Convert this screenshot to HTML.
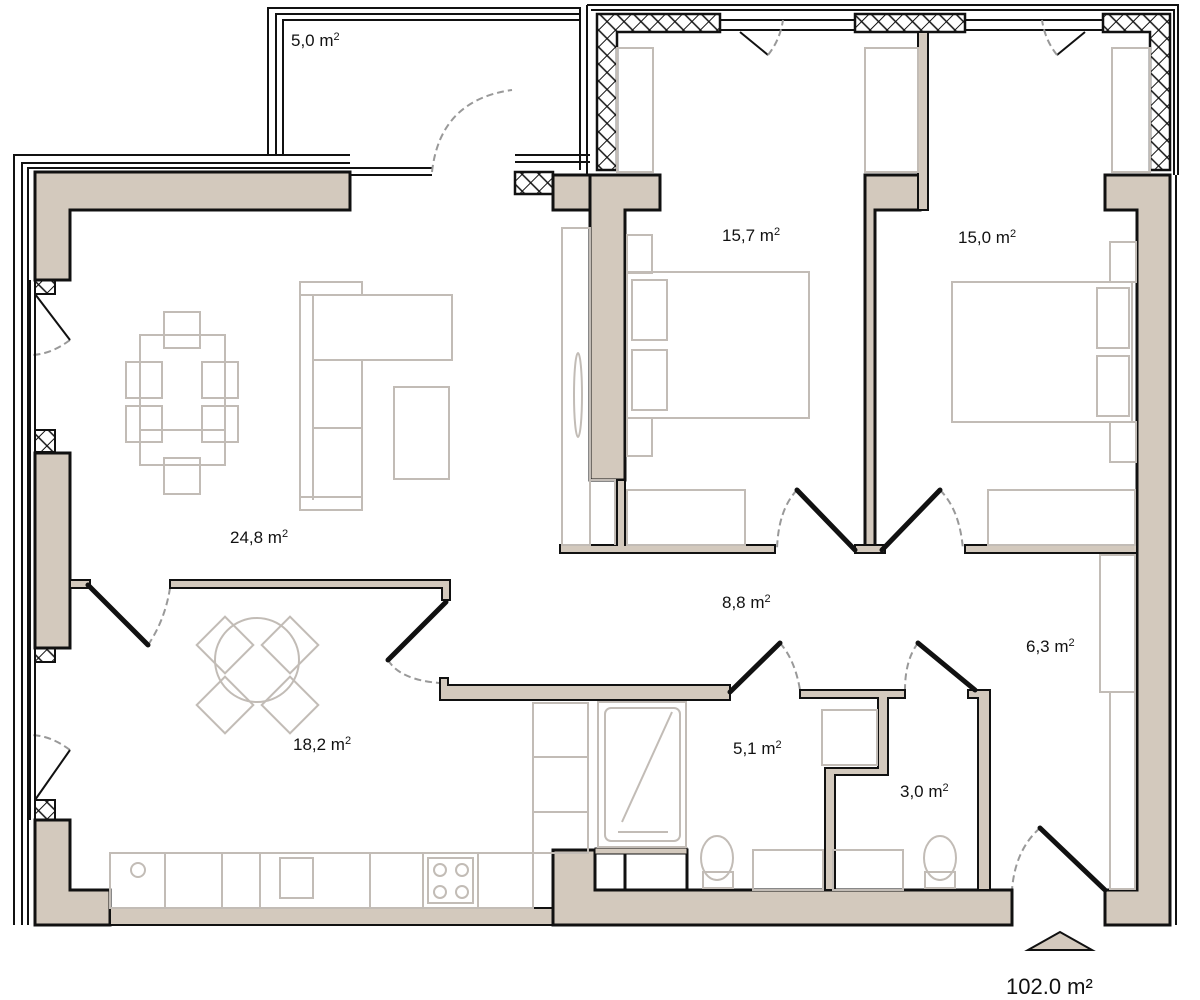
<!DOCTYPE html>
<html><head><meta charset="utf-8"><style>
html,body{margin:0;padding:0;background:#fff;width:1200px;height:1000px;overflow:hidden}
svg{display:block}
text{font-family:"Liberation Sans",sans-serif;fill:#111}
</style></head><body>
<svg width="1200" height="1000" viewBox="0 0 1200 1000">
<defs>
<pattern id="h" width="12" height="12" patternUnits="userSpaceOnUse" patternTransform="rotate(45)">
<rect width="12" height="12" fill="#fff"/><line x1="0" y1="0" x2="0" y2="12" stroke="#111" stroke-width="2"/><line x1="0" y1="6" x2="12" y2="6" stroke="#111" stroke-width="1.5"/>
</pattern>
</defs>

<g fill="none" stroke="#111" stroke-width="2">
<path d="M268 155 V8 H580 V170"/>
<path d="M276 155 V14 H580"/>
<path d="M283 155 V20 H580"/>
<path d="M350 168 H432 M350 175 H432 M515 155 H590 M515 162 H590"/>
<path d="M587 5 H1178 V175 M591 10 H1174 V175"/>
<path d="M587 5 V175"/>
</g>
<g stroke="#111" stroke-width="2.5" fill="url(#h)">
<path d="M597 14 H720 V32 H617 V170 H597 Z"/>
<rect x="855" y="14" width="110" height="18"/>
<path d="M1103 14 H1170 V170 H1150 V32 H1103 Z"/>
<rect x="515" y="172" width="38" height="22"/>
</g>
<g fill="none" stroke="#111" stroke-width="2">
<line x1="720" y1="30" x2="855" y2="30"/><line x1="965" y1="30" x2="1103" y2="30"/>
<line x1="720" y1="20" x2="855" y2="20"/><line x1="965" y1="20" x2="1103" y2="20"/>
<path d="M740 32 L768 55 M1085 32 L1057 55"/>
</g>
<g fill="none" stroke="#999" stroke-width="2" stroke-dasharray="7 4">
<path d="M768 55 Q780 40 783 20"/><path d="M1057 55 Q1045 40 1042 20"/>
<path d="M432 172 Q440 100 512 90"/>
<path d="M70 340 Q50 355 30 355"/><path d="M70 750 Q50 735 30 735"/>
<path d="M148 645 Q165 620 170 588"/><path d="M388 660 Q400 680 440 683"/>
<path d="M797 490 Q778 510 777 550"/><path d="M940 490 Q960 510 963 550"/>
<path d="M780 643 Q795 660 800 690"/><path d="M918 643 Q905 660 905 690"/>
<path d="M1040 828 Q1015 850 1012 890"/>
</g>

<g fill="none" stroke="#111" stroke-width="2">
<path d="M14 925 V155 H350"/>
<path d="M22 925 V163 H350"/>
<path d="M28 925 V168 H350"/>
<path d="M30 280 V820 M35 280 V820"/>
<path d="M1170 175 V925 M1176 175 V925"/>
</g>
<g stroke="#111" stroke-width="2" fill="url(#h)">
<rect x="35" y="280" width="20" height="14"/><rect x="35" y="430" width="20" height="22"/>
<rect x="35" y="648" width="20" height="14"/><rect x="35" y="800" width="20" height="20"/>
</g>
<g stroke="#111" stroke-width="2"><path d="M35 294 L70 340 M35 800 L70 750" fill="none"/></g>

<g fill="#d3c9bd" stroke="#111" stroke-width="3" stroke-linejoin="miter">
<path d="M35 172 H350 V210 H70 V280 H35 Z"/>
<rect x="35" y="453" width="35" height="195"/>
<path d="M35 820 H70 V890 H110 V925 H35 Z"/>
<rect x="110" y="908" width="443" height="17" stroke-width="2"/>
<path d="M553 850 H595 V890 H1012 V925 H553 Z"/>
<rect x="553" y="175" width="37" height="35"/>
<path d="M590 175 H660 V210 H625 V480 H590 Z"/>
<path d="M865 175 H920 V210 H875 V550 H865 Z"/>
<path d="M918 32 H928 V210 H918 Z" stroke-width="2"/>
<path d="M1105 175 H1170 V925 H1105 V890 H1137 V210 H1105 Z"/>
<path d="M617 480 H625 V545 H775 V553 H560 V545 H617 Z" stroke-width="2"/>
<path d="M855 545 H885 V553 H855 Z" stroke-width="2"/>
<path d="M965 545 H1137 V553 H965 Z" stroke-width="2"/>
<path d="M170 580 H450 V600 H442 V588 H170 Z" stroke-width="2"/>
<rect x="70" y="580" width="20" height="8" stroke-width="2"/>
<path d="M440 678 H448 V685 H730 V700 H440 Z" stroke-width="2"/>
<path d="M800 690 H905 V698 H888 V775 H835 V890 H825 V768 H878 V698 H800 Z" stroke-width="2"/>
<path d="M968 690 H990 V890 H978 V698 H968 Z" stroke-width="2"/>
<rect x="625" y="850" width="62" height="40" fill="#fff"/>
<rect x="595" y="848" width="92" height="6" stroke-width="1"/>
</g>

<g stroke="#111" stroke-width="5" stroke-linecap="round">
<line x1="88" y1="585" x2="148" y2="645"/>
<line x1="388" y1="660" x2="446" y2="602"/>
<line x1="797" y1="490" x2="855" y2="550"/>
<line x1="940" y1="490" x2="882" y2="550"/>
<line x1="730" y1="692" x2="780" y2="643"/>
<line x1="918" y1="643" x2="975" y2="690"/>
<line x1="1040" y1="828" x2="1105" y2="890"/>
</g>

<g fill="none" stroke="#c2bcb6" stroke-width="2">
<rect x="140" y="335" width="85" height="95"/>
<rect x="140" y="430" width="85" height="35"/>
<rect x="164" y="312" width="36" height="36"/><rect x="164" y="458" width="36" height="36"/>
<rect x="126" y="362" width="36" height="36"/><rect x="126" y="406" width="36" height="36"/>
<rect x="202" y="362" width="36" height="36"/><rect x="202" y="406" width="36" height="36"/>
<path d="M300 282 H362 V295 H452 V360 H362 V510 H300 Z"/>
<path d="M313 295 V500 M300 295 H362 M313 360 H362 M313 428 H362 M300 497 H362"/>
<rect x="394" y="387" width="55" height="92"/>
<circle cx="257" cy="660" r="42"/>
<rect x="205" y="625" width="40" height="40" transform="rotate(45 225 645)"/>
<rect x="270" y="625" width="40" height="40" transform="rotate(45 290 645)"/>
<rect x="205" y="685" width="40" height="40" transform="rotate(45 225 705)"/>
<rect x="270" y="685" width="40" height="40" transform="rotate(45 290 705)"/>
<rect x="110" y="853" width="423" height="55"/>
<path d="M165 853 V908 M222 853 V908 M260 853 V908 M370 853 V908 M423 853 V908 M478 853 V908"/>
<circle cx="138" cy="870" r="7"/><rect x="280" y="858" width="33" height="40"/>
<rect x="428" y="858" width="45" height="45"/>
<circle cx="440" cy="870" r="6"/><circle cx="462" cy="870" r="6"/><circle cx="440" cy="892" r="6"/><circle cx="462" cy="892" r="6"/>
<rect x="533" y="703" width="55" height="150"/><path d="M533 757 H588 M533 812 H588"/>
<rect x="598" y="702" width="88" height="145"/><rect x="605" y="708" width="75" height="133" rx="6"/>
<line x1="622" y1="822" x2="672" y2="712"/><line x1="618" y1="832" x2="668" y2="832"/>
<ellipse cx="717" cy="858" rx="16" ry="22"/><rect x="703" y="872" width="30" height="16"/>
<rect x="753" y="850" width="70" height="40"/><rect x="833" y="850" width="70" height="40"/>
<ellipse cx="940" cy="858" rx="16" ry="22"/><rect x="925" y="872" width="30" height="16"/>
<rect x="822" y="710" width="55" height="55"/>
<rect x="562" y="228" width="28" height="317"/><path d="M590 480 H615 V545"/>
<ellipse cx="578" cy="395" rx="4" ry="42"/>
<rect x="1100" y="555" width="35" height="137"/><rect x="1110" y="692" width="25" height="197"/>
<rect x="627" y="272" width="182" height="146"/><rect x="632" y="280" width="35" height="60"/><rect x="632" y="350" width="35" height="60"/>
<rect x="627" y="235" width="25" height="38"/><rect x="627" y="418" width="25" height="38"/>
<rect x="627" y="490" width="118" height="55"/>
<rect x="952" y="282" width="180" height="140"/><rect x="1097" y="288" width="32" height="60"/><rect x="1097" y="356" width="32" height="60"/>
<rect x="1110" y="242" width="26" height="40"/><rect x="1110" y="422" width="26" height="40"/>
<rect x="988" y="490" width="147" height="55"/>
<rect x="617" y="48" width="36" height="124"/><rect x="865" y="48" width="53" height="124"/><rect x="1112" y="48" width="38" height="124"/>
</g>

<g font-size="17">
<text x="291" y="46">5,0 m<tspan font-size="11" dy="-6">2</tspan></text>
<text x="722" y="241">15,7 m<tspan font-size="11" dy="-6">2</tspan></text>
<text x="958" y="243">15,0 m<tspan font-size="11" dy="-6">2</tspan></text>
<text x="230" y="543">24,8 m<tspan font-size="11" dy="-6">2</tspan></text>
<text x="722" y="608">8,8 m<tspan font-size="11" dy="-6">2</tspan></text>
<text x="1026" y="652">6,3 m<tspan font-size="11" dy="-6">2</tspan></text>
<text x="293" y="750">18,2 m<tspan font-size="11" dy="-6">2</tspan></text>
<text x="733" y="754">5,1 m<tspan font-size="11" dy="-6">2</tspan></text>
<text x="900" y="797">3,0 m<tspan font-size="11" dy="-6">2</tspan></text>
</g>
<polygon points="1028,950 1060,932 1092,950" fill="#d3c9bd" stroke="#111" stroke-width="2"/>
<text x="1006" y="994" font-size="22">102.0 m²</text>
</svg>
</body></html>
